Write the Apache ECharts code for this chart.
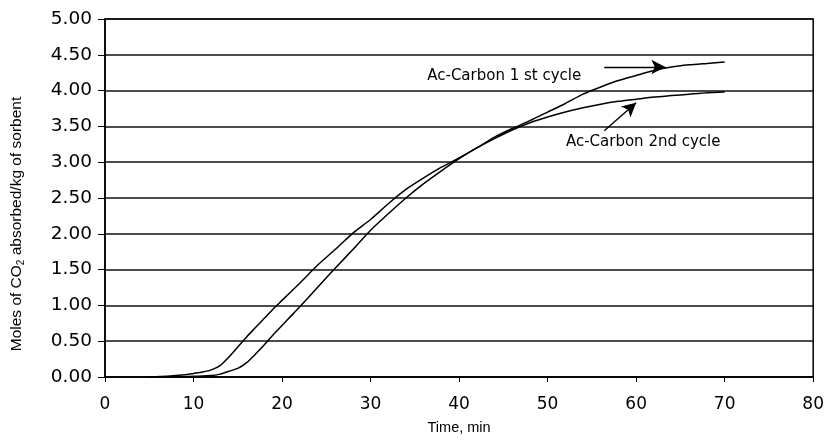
<!DOCTYPE html>
<html>
<head>
<meta charset="utf-8">
<script src="https://cdn.jsdelivr.net/npm/echarts@6/dist/echarts.min.js"></script>
<style>
  html, body { margin: 0; padding: 0; background: #fff; }
  #chart { width: 827px; height: 441px; }
</style>
</head>
<body>
<div id="chart"></div>
<script>
// CO2 uptake of activated carbon over time, two absorption cycles
const cycle1Time = [5, 7, 9, 10, 11, 12, 13, 14, 15, 16, 17, 18, 19, 20, 22, 24, 26, 28, 30, 32, 34, 36, 38, 40, 42, 44, 46, 48, 50, 52, 54, 56, 58, 60, 62, 64, 66, 68, 70];
const cycle1Moles = [0, 0.01, 0.03, 0.05, 0.07, 0.10, 0.16, 0.28, 0.42, 0.56, 0.69, 0.82, 0.95, 1.07, 1.31, 1.56, 1.78, 2.01, 2.20, 2.42, 2.62, 2.78, 2.93, 3.06, 3.20, 3.35, 3.47, 3.58, 3.70, 3.82, 3.95, 4.05, 4.14, 4.21, 4.28, 4.33, 4.36, 4.38, 4.40];

const cycle2Time = [5, 8, 10, 12, 13, 14, 15, 16, 17, 18, 19, 20, 21, 22, 24, 26, 28, 30, 32, 34, 36, 38, 40, 42, 44, 46, 48, 50, 52, 54, 56, 58, 60, 62, 64, 66, 68, 70];
const cycle2Moles = [0, 0, 0.01, 0.02, 0.04, 0.08, 0.12, 0.20, 0.32, 0.45, 0.59, 0.72, 0.85, 0.98, 1.25, 1.52, 1.78, 2.05, 2.28, 2.50, 2.70, 2.88, 3.05, 3.20, 3.33, 3.45, 3.55, 3.63, 3.70, 3.76, 3.81, 3.85, 3.88, 3.91, 3.93, 3.95, 3.97, 3.98];

const seriesNames = ['Ac-Carbon 1 st cycle', 'Ac-Carbon 2nd cycle'];

// Callout placement in data units: text centre, arrow tail, arrow tip
const callout1 = { text: [45.1, 4.20], tail: [56.4, 4.33], tip: [63.3, 4.33] };
const callout2 = { text: [60.8, 3.28], tail: [56.4, 3.44], tip: [60.0, 3.83] };

const pairs = (xs, ys) => xs.map((x, i) => [x, ys[i]]);

function calloutParts(c, name) {
  return {
    markLine: {
      silent: true,
      animation: false,
      symbol: ['none', 'arrow'],
      symbolSize: [11, 14],
      lineStyle: { color: '#000', width: 1.4, type: 'solid' },
      label: { show: false },
      data: [[{ coord: c.tail }, { coord: c.tip }]]
    },
    markPoint: {
      silent: true,
      animation: false,
      symbol: 'rect',
      symbolSize: 0,
      label: {
        show: true,
        position: 'inside',
        formatter: name,
        color: '#000',
        fontFamily: 'DejaVu Sans',
        fontSize: 15
      },
      data: [{ coord: c.text }]
    }
  };
}

const chart = echarts.init(document.getElementById('chart'), null, { renderer: 'canvas' });

chart.setOption({
  animation: false,
  backgroundColor: '#fff',
  grid: {
    left: 105, right: 10, top: 19, bottom: 64,
    show: true, borderColor: '#000', borderWidth: 1.5
  },
  xAxis: {
    type: 'value',
    min: 0, max: 80, interval: 10,
    name: 'Time, min',
    nameLocation: 'middle',
    nameGap: 43,
    nameTextStyle: { color: '#000', fontFamily: 'Liberation Sans', fontSize: 14.5 },
    axisLine: { lineStyle: { color: '#000', width: 1.5 } },
    axisTick: { show: true, length: 5, lineStyle: { color: '#000', width: 1 } },
    axisLabel: { color: '#000', fontFamily: 'DejaVu Sans', fontSize: 17, margin: 19 },
    splitLine: { show: false }
  },
  yAxis: {
    type: 'value',
    min: 0, max: 5, interval: 0.5,
    name: '{t|Moles of CO}{s|2}{t| absorbed/kg of sorbent}',
    nameLocation: 'middle',
    nameRotate: 90,
    nameGap: 79,
    nameTextStyle: {
      color: '#000',
      padding: [0, 52, 0, 0],
      rich: {
        t: { fontFamily: 'Liberation Sans', fontSize: 15.5, color: '#000' },
        s: { fontFamily: 'Liberation Sans', fontSize: 10, color: '#000', padding: [8, 0, 0, 0] }
      }
    },
    axisLine: { show: true, lineStyle: { color: '#000', width: 1.5 } },
    axisTick: { show: true, length: 7, lineStyle: { color: '#000', width: 1 } },
    axisLabel: {
      color: '#000', fontFamily: 'DejaVu Sans', fontSize: 18.5, margin: 13,
      formatter: v => v.toFixed(2)
    },
    splitLine: { show: true, lineStyle: { color: '#111', width: 1.5 } }
  },
  series: [
    Object.assign({
      name: seriesNames[0],
      type: 'line',
      data: pairs(cycle1Time, cycle1Moles),
      showSymbol: false,
      smooth: 0.2,
      lineStyle: { color: '#000', width: 1.5 },
      z: 3
    }, calloutParts(callout1, seriesNames[0])),
    Object.assign({
      name: seriesNames[1],
      type: 'line',
      data: pairs(cycle2Time, cycle2Moles),
      showSymbol: false,
      smooth: 0.2,
      lineStyle: { color: '#000', width: 1.5 },
      z: 3
    }, calloutParts(callout2, seriesNames[1]))
  ]
});
</script>
</body>
</html>
